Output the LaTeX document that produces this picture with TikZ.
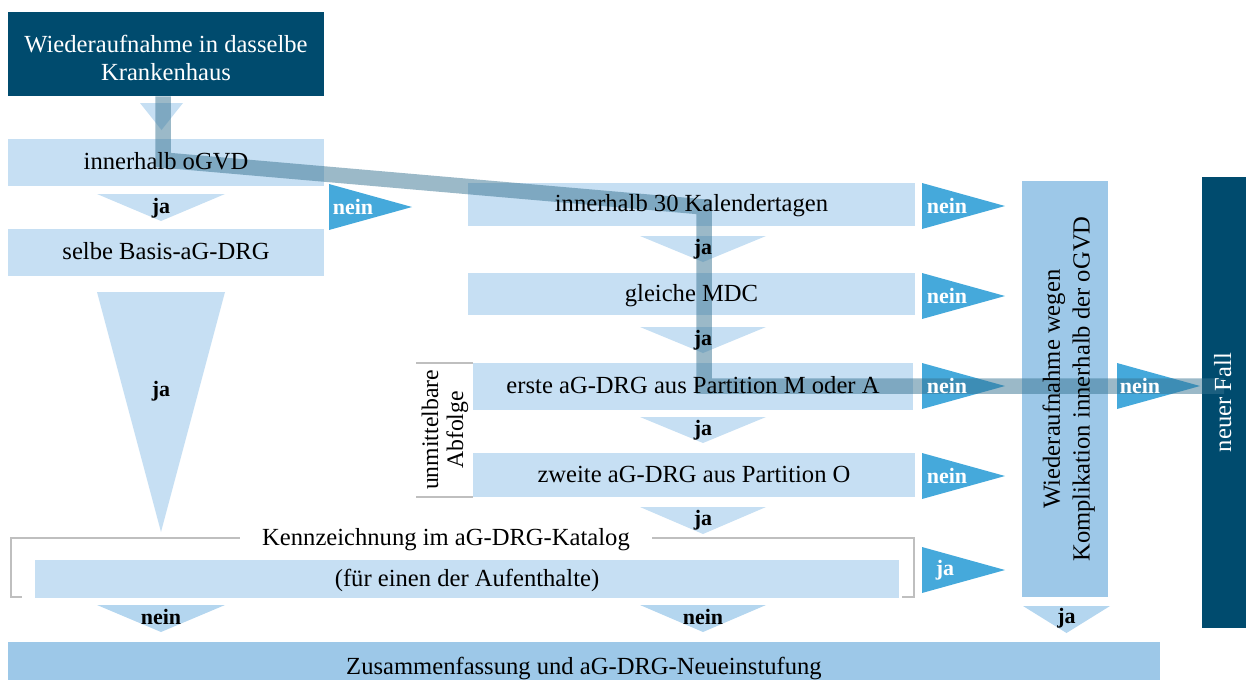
\documentclass[tikz,border=0pt]{standalone}
\usepackage{fontspec}
\setmainfont{Liberation Serif}
\usetikzlibrary{positioning}
\pgfdeclarelayer{back}
\pgfdeclarelayer{overlay}
\pgfsetlayers{back,overlay,main}
\definecolor{Deep}{HTML}{004B6E}
\definecolor{Pale}{HTML}{C6DFF3}
\definecolor{Mid}{HTML}{9DC8E8}
\definecolor{Soft}{HTML}{B4D6EF}
\definecolor{Vivid}{HTML}{45A9DB}
\definecolor{Frame}{HTML}{BFBFBF}
\definecolor{Route}{HTML}{377391}
\tikzset{
  stepbox/.style={inner sep=0pt, align=center, text height=0.8em, text depth=0pt,
    font=\fontsize{14}{16}\selectfont},
  twoline/.style={text height=, text depth=},
  answer/.style={inner sep=0pt, font=\fontsize{12.5}{14}\selectfont\bfseries},
  flip/.style={rotate=90},
  frame/.style={draw=Frame, line width=0.45mm},
  route/.style={draw=Route, draw opacity=0.5, line width=3.1mm, line join=miter}
}

\begin{document}
\begin{tikzpicture}[x=0.2mm,y=-0.2mm]
  \useasboundingbox (0,0) rectangle (1246,679);
  % boxes, their fills go on the back layer
  \node[stepbox, twoline, text=white, minimum width=63.2mm, minimum height=16.8mm] (top) at (166,54) {\rule{0pt}{1em}Wiederaufnahme in dasselbe\\Krankenhaus};
  \node[stepbox, minimum width=63.2mm, minimum height=9.4mm] (ogvd) at (166,162.5) {innerhalb oGVD};
  \node[stepbox, minimum width=63.2mm, minimum height=9.4mm] (basis) at (166,252.5) {selbe Basis-aG-DRG};
  \node[stepbox, minimum width=89.4mm, minimum height=8.6mm] (tage) at (691.5,204.5) {innerhalb 30 Kalendertagen};
  \node[stepbox, minimum width=89.4mm, minimum height=8.4mm] (mdc) at (691.5,294) {gleiche MDC};
  \node[stepbox, minimum width=88mm, minimum height=9.4mm] (erste) at (693,386.5) {erste aG-DRG aus Partition M oder A};
  \node[stepbox, minimum width=88.4mm, minimum height=8.8mm] (zweite) at (694,475) {zweite aG-DRG aus Partition O};
  \node[stepbox, minimum width=172.8mm, minimum height=7.6mm] (aufent) at (467,579) {(für einen der Aufenthalte)};
  \node[stepbox, inner xsep=4.4mm] (kat) at (446,538) {Kennzeichnung im aG-DRG-Katalog};
  \node[stepbox, twoline, flip, minimum width=83.2mm, minimum height=17.2mm, font=\fontsize{14}{17}\selectfont] (komp) at (1065,389) {\rule{0pt}{1em}Wiederaufnahme wegen\\Komplikation innerhalb der oGVD};
  \node[stepbox, flip, text=white, minimum width=90.2mm, minimum height=8.8mm] (fall) at (1224,402.5) {neuer Fall};
  \node[stepbox, minimum width=230.4mm, minimum height=10mm] (sum) at (584,667) {Zusammenfassung und aG-DRG-Neueinstufung};
  \node[stepbox, twoline, flip, font=\fontsize{13.5}{14.2}\selectfont] (folge) at (445,430) {unmittelbare\\Abfolge};

  \begin{pgfonlayer}{back}
    \foreach \n/\col in {top/Deep, ogvd/Pale, basis/Pale, tage/Pale, mdc/Pale, erste/Pale, zweite/Pale, aufent/Pale, komp/Mid, fall/Deep, sum/Mid}
      \fill[\col] (\n.south west) rectangle (\n.north east);
    \fill[Pale] (140,103) -- (183,103) -- (161.5,130) -- cycle;
    \fill[Pale] (97,194) -- (225,194) -- (161,221) -- cycle;
    \fill[Pale] (97,292) -- (225,292) -- (161,532) -- cycle;
    \fill[Vivid] (329,184) -- (412,207) -- (329,230) -- cycle;
    \fill[Vivid] (922,547) -- (1005,570) -- (922,593) -- cycle;
    \fill[Vivid] (1117,363) -- (1200,386) -- (1117,409) -- cycle;
    \fill[Soft] (97,605) -- (225,605) -- (161,632) -- cycle;
    \fill[Soft] (640,605) -- (766,605) -- (703,632) -- cycle;
    \fill[Soft] (1023,606) -- (1110,606) -- (1066.5,633) -- cycle;
  \end{pgfonlayer}

  % answers on the left and at the bottom
  \node[answer] (ja1) at (161,208) {ja};
  \node[answer] (ja2) at (161,391) {ja};
  \node[answer, text=white] (nein0) at (353,207) {nein};
  \node[answer, text=white] (ja3) at (945,570) {ja};
  \node[answer, text=white] (nein5) at (1140,386) {nein};
  \node[answer] (nein6) at (161,617) {nein};
  \node[answer] (nein7) at (703,617) {nein};
  \node[answer] (ja4) at (1066.5,618) {ja};

  % middle column
  \foreach \yt/\yb in {236/262, 327/353, 417/443, 507/534} {
    \begin{pgfonlayer}{back}
      \fill[Pale] (640,\yt) -- (766,\yt) -- (703,\yb) -- cycle;
    \end{pgfonlayer}
    \node[answer] (ja\yt) at (703,{(\yt+\yb)/2}) {ja};
  }
  \foreach \yc in {206,296,386,476} {
    \begin{pgfonlayer}{back}
      \fill[Vivid] (922,\yc-23) -- (1005,\yc) -- (922,\yc+23) -- cycle;
    \end{pgfonlayer}
    \node[answer, text=white] (nein\yc) at (947,\yc) {nein};
  }

  % brackets
  \draw[frame] (kat.west) -| ([xshift=-4.8mm,yshift=0.2mm]aufent.south west) -- ++(2.2mm,0);
  \draw[frame] (kat.east) -| ([xshift=3mm,yshift=0.2mm]aufent.south east) -- ++(-2.4mm,0);
  \draw[frame] (erste.north west) -- ++(-11.4mm,0);
  \draw[frame] (zweite.south west) -- ++(-11.4mm,0);

  % highlighted path
  \coordinate (bendA) at (163,160);
  \coordinate (bendB) at (704,207);
  \coordinate (bendC) at (704,386);
  \begin{pgfonlayer}{overlay}
    \draw[route] (bendA |- top.south) -- (bendA) -- (bendB) -- (bendC) -- (bendC -| fall.west);
  \end{pgfonlayer}
\end{tikzpicture}
\end{document}
